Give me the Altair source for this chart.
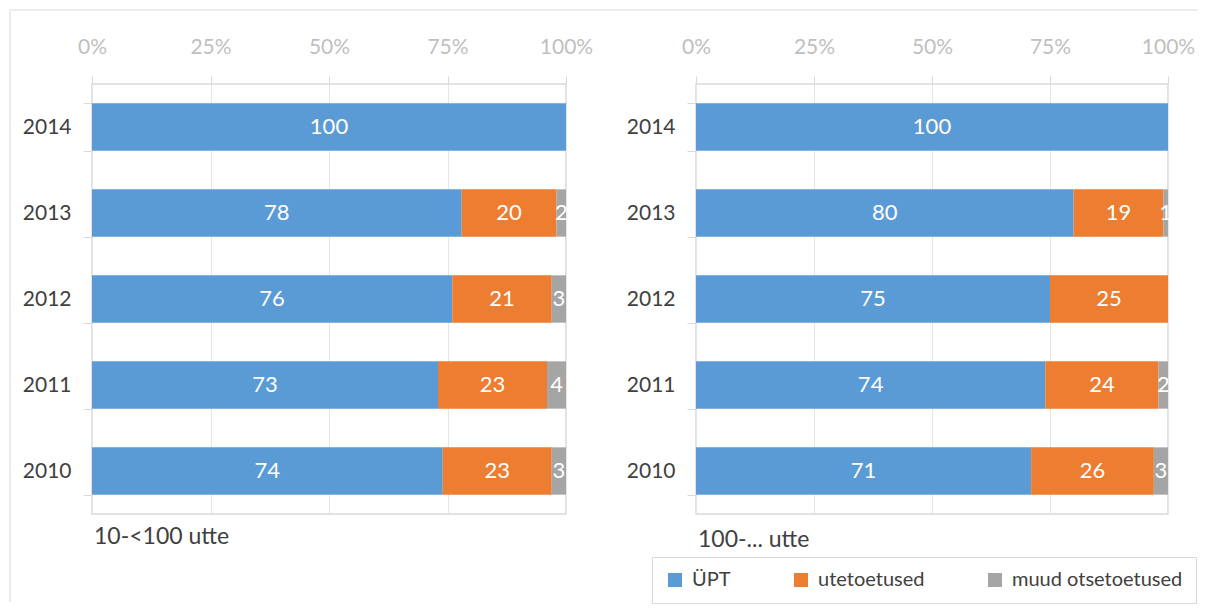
import altair as alt
import pandas as pd

years = ["2014", "2013", "2012", "2011", "2010"]
series = ["ÜPT", "utetoetused", "muud otsetoetused"]
colors = ["#5B9BD5", "#ED7D31", "#A5A5A5"]

left_upt = [100, 78, 76, 73, 74]
left_ute = [0, 20, 21, 23, 23]
left_muud = [0, 2, 3, 4, 3]

right_upt = [100, 80, 75, 74, 71]
right_ute = [0, 19, 25, 24, 26]
right_muud = [0, 1, 0, 2, 3]

x_ticks = [0, 25, 50, 75, 100]
left_title = "10-<100 utte"
right_title = "100-... utte"

FONT = "Lato"
GRID = "#D9D9D9"
TEXT = "#404040"


def build_df(upt, ute, muud):
    rows = []
    for i, y in enumerate(years):
        start = 0
        for s, vals in zip(series, [upt, ute, muud]):
            v = vals[i]
            rows.append({"year": y, "series": s, "order": series.index(s),
                         "value": v, "start": start, "end": start + v,
                         "mid": start + v / 2})
            start += v
    df = pd.DataFrame(rows)
    return df[df["value"] > 0]


legend = alt.Legend(
    orient="none", direction="horizontal", columns=3, title=None,
    legendX=560, legendY=473, symbolType="square", symbolSize=196,
    symbolStrokeWidth=0, labelFontSize=20, labelFont=FONT, labelColor=TEXT,
    labelOffset=7, columnPadding=60, padding=13, strokeColor=GRID,
    labelLimit=400,
)


def panel(df, title, w, title_y, frame=False):
    base = alt.Chart(df)
    y = alt.Y("year:N", sort=years, title=None,
              scale=alt.Scale(paddingInner=0.45, paddingOuter=0.225),
              axis=alt.Axis(orient="left", labelFontSize=21, labelFont=FONT,
                            labelColor=TEXT, tickBand="extent", tickSize=9,
                            tickColor=GRID, labelPadding=12, domain=False,
                            grid=False))
    x = alt.X("start:Q", title=None,
              scale=alt.Scale(domain=[0, 100], nice=False, zero=True),
              axis=alt.Axis(orient="top", values=x_ticks,
                            labelExpr="datum.value + '%'", labelFontSize=21,
                            labelFont=FONT, labelColor="#BFBFBF",
                            labelFlush=False, tickSize=8, tickColor=GRID,
                            labelPadding=19, domain=False, grid=True,
                            gridColor="#E5E5E5"))
    bars = base.mark_bar(stroke=None).encode(
        y=y, x=x, x2="end:Q",
        color=alt.Color("series:N", scale=alt.Scale(domain=series, range=colors),
                        legend=legend),
        order="order:Q",
    )
    labels = base.mark_text(color="white", fontSize=22, font=FONT,
                            align="center", baseline="middle").encode(
        y=alt.Y("year:N", sort=years),
        x=alt.X("mid:Q"),
        text="value:Q",
    )
    sub = alt.Chart(pd.DataFrame({"t": [title]})).mark_text(
        fontSize=23, font=FONT, color=TEXT, align="left", baseline="middle"
    ).encode(x=alt.value(2), y=alt.value(title_y), text="t:N")
    layers = [bars, labels, sub]
    if frame:
        vline = alt.Chart(pd.DataFrame({"a": [0]})).mark_rule(
            color=GRID, strokeWidth=1).encode(
            x=alt.value(-82), y=alt.value(-74), y2=alt.value(518))
        hline = alt.Chart(pd.DataFrame({"a": [0]})).mark_rule(
            color=GRID, strokeWidth=1).encode(
            x=alt.value(-82), x2=alt.value(1106), y=alt.value(-74))
        layers = [vline, hline] + layers
    return alt.layer(*layers).properties(width=w, height=430)


left = panel(build_df(left_upt, left_ute, left_muud), left_title, 474, 453, frame=True)
right = panel(build_df(right_upt, right_ute, right_muud), right_title, 472, 456)

chart = alt.hconcat(left, right, spacing=130, bounds="flush").properties(
    padding=0
).configure_view(stroke=GRID, strokeWidth=1.5).resolve_scale(color="shared")

chart.save("out.html", embed_options={"renderer": "svg", "actions": False})
